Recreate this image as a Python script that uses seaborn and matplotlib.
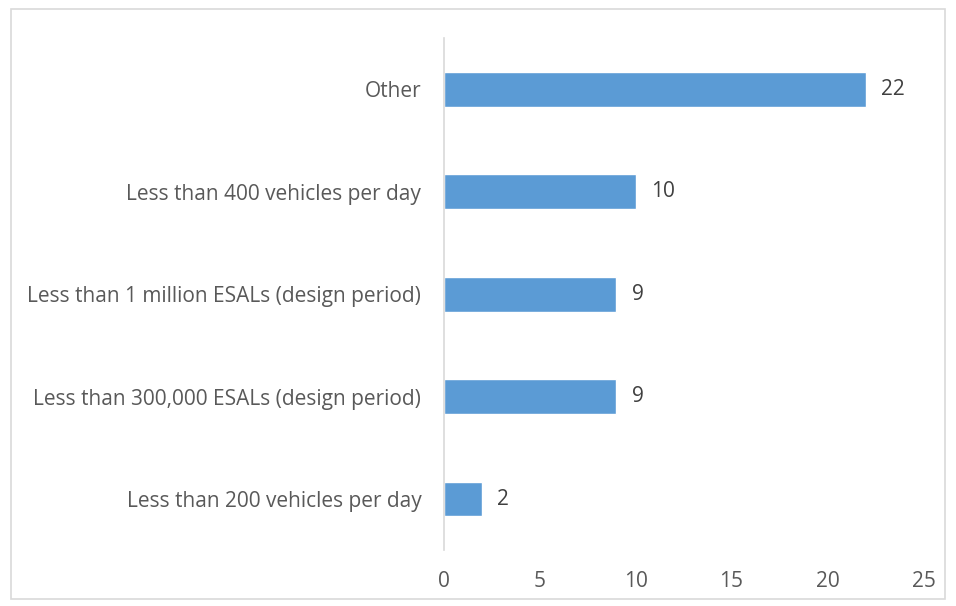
import matplotlib.pyplot as plt
import seaborn as sns
import pandas as pd
from matplotlib.patches import Rectangle

categories = [
    "Other",
    "Less than 400 vehicles per day",
    "Less than 1 million ESALs (design period)",
    "Less than 300,000 ESALs (design period)",
    "Less than 200 vehicles per day",
]
counts = [22, 10, 9, 9, 2]
x_ticks = [0, 5, 10, 15, 20, 25]

df = pd.DataFrame({"category": categories, "count": counts})

sns.set_style("white")
plt.rcParams["font.family"] = ["Open Sans", "DejaVu Sans"]

fig = plt.figure(figsize=(9.56, 6.06), dpi=100)
ax = fig.add_axes([0.464, 0.092, 0.502, 0.845])

sns.barplot(data=df, y="category", x="count", orient="h", color="#5B9BD5",
            width=0.34, saturation=1, ax=ax)

for container in ax.containers:
    ax.bar_label(container, padding=11, fontsize=15, color="#404040")

ax.set_xlim(0, 25)
ax.set_xticks(x_ticks)
ax.set_xlabel("")
ax.set_ylabel("")
ax.tick_params(axis="x", labelsize=15, colors="#595959", length=0, pad=15)
ax.tick_params(axis="y", labelsize=15, colors="#595959", length=0, pad=16)
for s in ["top", "right", "bottom"]:
    ax.spines[s].set_visible(False)
ax.spines["left"].set_color("#d9d9d9")
ax.spines["left"].set_linewidth(1.2)

# light frame around the chart area
fig.patches.append(Rectangle((0.011, 0.011), 0.978, 0.974, transform=fig.transFigure,
                             fill=False, edgecolor="#d9d9d9", linewidth=1.2))

fig.savefig("out.png", dpi=100)
